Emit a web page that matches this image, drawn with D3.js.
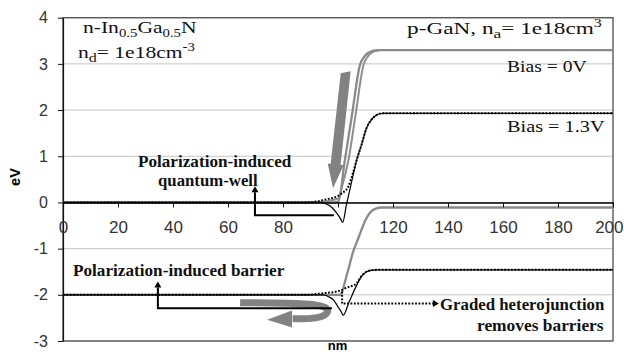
<!DOCTYPE html>
<html lang="en">
<head>
<meta charset="utf-8">
<title>Band diagram</title>
<script src="https://cdn.jsdelivr.net/npm/d3@7"></script>
<style>
  body { margin: 0; background: #fff; }
</style>
</head>
<body>
<svg id="chart"></svg>
<script>
// band edges as [nm, eV]
// bias = 0V (gray)
const cb0Abrupt = [[0,0],[97,0],[100.1,0.02],[102.5,0.92],[105,1.86],[108,2.98],[109.5,3.15],[111,3.24],[112.5,3.28],[114.5,3.3],[200,3.3]];
const cb0Graded = [[0,0],[92,0],[100,0.08],[101.5,0.35],[103.8,0.92],[106.3,1.86],[109.3,2.98],[110.7,3.15],[112.2,3.24],[113.8,3.28],[115.5,3.3],[200,3.3]];
const vb0Abrupt = [[0,-2],[98,-2],[100.7,-2],[103.3,-1.55],[105.6,-1.05],[106.9,-0.85],[108.5,-0.6],[110,-0.38],[111.7,-0.22],[113.5,-0.14],[116,-0.11],[200,-0.11]];
// bias = 1.3V (black)
const cb13Abrupt = [[0,0],[93.5,0],[96,-0.04],[98,-0.12],[100,-0.27],[101,-0.36],[101.7,-0.43],[103,-0.07],[105,0.46],[106.8,0.92],[108.5,1.24],[110.5,1.63],[112,1.78],[113.5,1.87],[115,1.92],[116.5,1.93],[200,1.93]];
const cb13Graded = [[0,0],[88.7,0],[92,0.02],[96,0.07],[100,0.14],[101.5,0.2],[103.7,0.34],[105.5,0.65],[106.8,0.92],[108.5,1.24],[110.5,1.63],[112,1.78],[113.5,1.87],[115,1.92],[116.5,1.93],[200,1.93]];
const vb13Abrupt = [[0,-2],[94.7,-2],[96.5,-2.04],[98.5,-2.12],[100.1,-2.27],[101.1,-2.36],[101.9,-2.44],[104,-2.16],[106.8,-1.79],[108.5,-1.6],[110.4,-1.5],[112,-1.47],[114,-1.46],[200,-1.46]];
const vb13Graded = [[0,-2],[88.6,-2],[94,-1.97],[100.1,-1.92],[103,-1.85],[106.8,-1.75],[108.5,-1.6],[110.4,-1.5],[112,-1.47],[114,-1.46],[200,-1.46]];

const xTicks = [0,20,40,60,80,100,120,140,160,180,200];
const xTickLabels = ["0","20","40","60","80","","120","140","160","180","200"]; // 100 is hidden under the curves
const yTicks = [4,3,2,1,0,-1,-2,-3];

// annotation anchors, in data units
const qwArrow = [[98.5,-0.28],[69.8,-0.28],[69.8,0.22]];
const barrierArrow = [[97.8,-2.29],[34.5,-2.29],[34.5,-1.84]];
const gradedArrow = [[101.5,-1.93],[101.5,-2.19],[134.5,-2.19]];
const downArrow = [[102.8,2.83],[98.2,0.31]];
const uArrow = [[64.4,-2.17],[91.6,-2.18],[97.1,-2.29],[95.6,-2.46],[90.5,-2.52],[83.5,-2.52]];
const uArrowHead = [[83.3,-2.34],[83.3,-2.71],[74.2,-2.54]];

const width = 624, height = 352;
const serif = "'Liberation Serif', 'Times New Roman', serif";
const sans = "'Liberation Sans', Arial, sans-serif";

const svg = d3.select("#chart").attr("width", width).attr("height", height);

const x = d3.scaleLinear().domain([0, 200]).range([63, 613]);
const y = d3.scaleLinear().domain([-3, 4]).range([341, 17.7]);

// gridlines
svg.append("g").selectAll("line")
  .data(yTicks)
  .enter().append("line")
  .attr("x1", x(0)).attr("x2", x(200))
  .attr("y1", d => y(d)).attr("y2", d => y(d))
  .attr("stroke", "#c4c4c4")
  .attr("stroke-width", 1);

// plot frame
svg.append("rect")
  .attr("x", x(0)).attr("y", y(4))
  .attr("width", x(200) - x(0)).attr("height", y(-3) - y(4))
  .attr("fill", "none")
  .attr("stroke", "#5a5a5a")
  .attr("stroke-width", 1.4);

// y axis
const yAxis = svg.append("g")
  .attr("transform", `translate(${x(0)},0)`)
  .call(d3.axisLeft(y).tickValues(yTicks).tickSize(5).tickPadding(10).tickSizeOuter(0).tickFormat(d => String(d)));
yAxis.select(".domain").attr("stroke", "#111").attr("stroke-width", 1.2);
yAxis.selectAll(".tick line").attr("stroke", "#111");
yAxis.selectAll("text").attr("font-family", sans).attr("font-size", 16).attr("fill", "#333");

const line = d3.line().x(d => x(d[0])).y(d => y(d[1])).curve(d3.curveMonotoneX);

function drawSeries(data, color, w, dash) {
  svg.append("path")
    .datum(data)
    .attr("d", line)
    .attr("fill", "none")
    .attr("stroke", color)
    .attr("stroke-width", w)
    .attr("stroke-dasharray", dash || null);
}

drawSeries(cb0Graded, "#8e8e8e", 2);
drawSeries(cb0Abrupt, "#8a8a8a", 2.3);
drawSeries(vb0Abrupt, "#8a8a8a", 2.3);
drawSeries(cb13Abrupt, "#000", 1.2);
drawSeries(vb13Abrupt, "#000", 1.2);
drawSeries(cb13Graded, "#000", 2, "1.8,1.6");
drawSeries(vb13Graded, "#000", 2, "1.8,1.6");

// x axis crossing at 0
const xAxis = svg.append("g")
  .attr("transform", `translate(0,${y(0)})`)
  .call(d3.axisBottom(x).tickValues(xTicks).tickSize(5).tickPadding(13).tickSizeOuter(0)
    .tickFormat((d, i) => xTickLabels[i]));
xAxis.select(".domain").attr("stroke", "#000").attr("stroke-width", 1.6);
xAxis.selectAll(".tick line").attr("stroke", "#111");
xAxis.selectAll("text").attr("font-family", sans).attr("font-size", 17).attr("fill", "#333");
// last label pulled in so it stays inside the picture
xAxis.selectAll("text").filter(d => d === 200).attr("text-anchor", "end").attr("x", 623 - x(200));

// axis titles
svg.append("text")
  .attr("transform", `translate(20,177) rotate(-90)`)
  .attr("text-anchor", "middle")
  .attr("font-family", sans).attr("font-weight", "bold").attr("font-size", 14.5)
  .text("eV");
svg.append("text")
  .attr("x", 337.5).attr("y", 350)
  .attr("text-anchor", "middle")
  .attr("font-family", sans).attr("font-weight", "bold").attr("font-size", 13)
  .text("nm");

// gray arrows
const px = d => [x(d[0]), y(d[1])];
(function () {
  const T = px(downArrow[0]), P = px(downArrow[1]);
  const len = Math.hypot(P[0] - T[0], P[1] - T[1]);
  const dx = (P[0] - T[0]) / len, dy = (P[1] - T[1]) / len;
  const nx = -dy, ny = dx;
  const headLen = 24, bw = 5, hw = 8;
  const B = [P[0] - dx * headLen, P[1] - dy * headLen];
  const pts = [
    [T[0] + nx * bw, T[1] + ny * bw + 2],
    [B[0] + nx * bw, B[1] + ny * bw],
    [B[0] + nx * hw, B[1] + ny * hw],
    P,
    [B[0] - nx * hw, B[1] - ny * hw],
    [B[0] - nx * bw, B[1] - ny * bw],
    [T[0] - nx * bw, T[1] - ny * bw - 1]
  ];
  svg.append("path")
    .attr("d", "M" + pts.map(p => p.join(",")).join("L") + "Z")
    .attr("fill", "#828282");
})();

svg.append("path")
  .datum(uArrow)
  .attr("d", d3.line().x(d => x(d[0])).y(d => y(d[1])).curve(d3.curveBasis))
  .attr("fill", "none")
  .attr("stroke", "#828282")
  .attr("stroke-width", 7);
svg.append("path")
  .attr("d", "M" + uArrowHead.map(px).map(p => p.join(",")).join("L") + "Z")
  .attr("fill", "#828282");

// black annotation arrows
function elbowArrow(pts, dash) {
  const p = pts.map(px);
  svg.append("path")
    .attr("d", "M" + p.map(q => q.join(",")).join("L"))
    .attr("fill", "none")
    .attr("stroke", "#000")
    .attr("stroke-width", 2)
    .attr("stroke-dasharray", dash || null);
  const tip = p[p.length - 1], prev = p[p.length - 2];
  const len = Math.hypot(tip[0] - prev[0], tip[1] - prev[1]);
  const dx = (tip[0] - prev[0]) / len, dy = (tip[1] - prev[1]) / len;
  const s = 6;
  const end = [tip[0] + dx * s, tip[1] + dy * s];
  svg.append("path")
    .attr("d", `M${end[0]},${end[1]}L${tip[0] - dy * 3.5},${tip[1] + dx * 3.5}L${tip[0] + dy * 3.5},${tip[1] - dx * 3.5}Z`)
    .attr("fill", "#000");
}
elbowArrow(qwArrow);
elbowArrow(barrierArrow);
elbowArrow(gradedArrow, "1.8,1.6");

// texts, stretched to the measured widths
function fitText(parts, left, baseline, w, size, weight) {
  const g = svg.append("g");
  const t = g.append("text")
    .attr("font-family", serif)
    .attr("font-size", size)
    .attr("font-weight", weight || "normal")
    .attr("fill", "#111");
  parts.forEach(p => {
    t.append("tspan")
      .attr("dy", p.dy || 0)
      .attr("font-size", p.size || null)
      .text(p.t);
  });
  const bw = t.node().getBBox().width;
  g.attr("transform", `translate(${left},${baseline}) scale(${w / bw},1)`);
}

fitText([{t: "n-In"}, {t: "0.5", dy: 4, size: 12}, {t: "Ga", dy: -4}, {t: "0.5", dy: 4, size: 12}, {t: "N", dy: -4}], 83, 33, 114, 17.5);
fitText([{t: "n"}, {t: "d", dy: 4, size: 13}, {t: "= 1e18cm", dy: -4}, {t: "-3", dy: -7, size: 12}], 78, 58, 117, 17.5);
fitText([{t: "p-GaN, n"}, {t: "a", dy: 4, size: 13}, {t: "= 1e18cm", dy: -4}, {t: "3", dy: -7, size: 12}], 407, 33.5, 195, 17.5);
fitText([{t: "Bias = 0V"}], 507, 71.5, 80, 17.5);
fitText([{t: "Bias = 1.3V"}], 507, 132, 98, 17.5);

fitText([{t: "Polarization-induced"}], 138, 167, 154, 17, "bold");
fitText([{t: "quantum-well"}], 158, 186, 100, 17, "bold");
fitText([{t: "Polarization-induced barrier"}], 73, 276, 212, 17, "bold");
fitText([{t: "Graded heterojunction"}], 440, 310, 165, 17, "bold");
fitText([{t: "removes barriers"}], 477, 331, 127, 17, "bold");
</script>
</body>
</html>
